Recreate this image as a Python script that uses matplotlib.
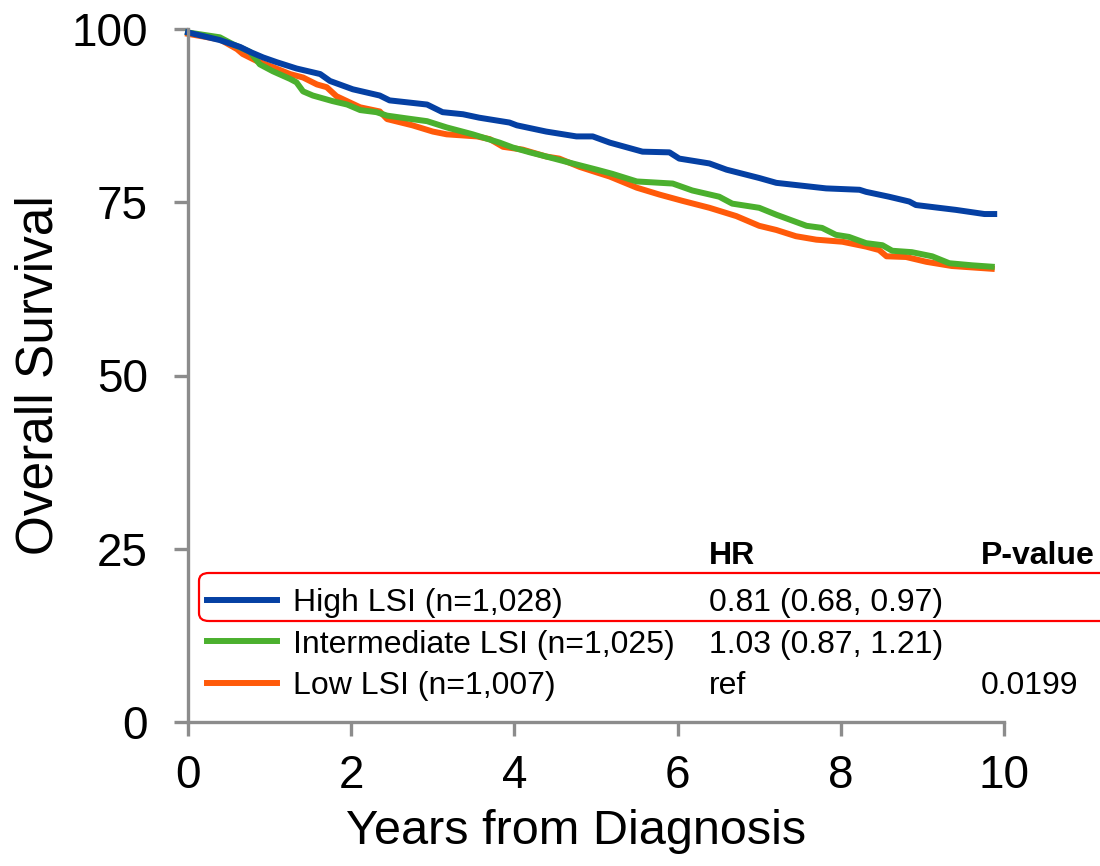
import matplotlib
matplotlib.use('Agg')
import matplotlib.pyplot as plt
from matplotlib.patches import FancyBboxPatch

plt.rcParams['font.family'] = ['Liberation Sans', 'DejaVu Sans']

# Kaplan-Meier curves (years, % surviving)
high_t = [0, 0.39, 0.64, 0.76, 0.92, 1.09, 1.33, 1.62, 1.74, 2.02, 2.35, 2.47, 2.93, 3.12,
          3.37, 3.57, 3.94, 4.03, 4.39, 4.76, 4.96, 5.17, 5.57, 5.90, 6.02, 6.39, 6.60,
          7.00, 7.21, 7.82, 8.23, 8.31, 8.59, 8.84, 8.92, 9.41, 9.76, 9.88]
high_s = [99.5, 98.4, 97.4, 96.7, 95.9, 95.2, 94.3, 93.5, 92.5, 91.3, 90.4, 89.7, 89.1, 88.0,
          87.7, 87.2, 86.5, 86.1, 85.2, 84.5, 84.5, 83.6, 82.3, 82.2, 81.3, 80.6, 79.7,
          78.5, 77.8, 77.0, 76.8, 76.5, 75.8, 75.1, 74.6, 73.9, 73.3, 73.3]

mid_t = [0, 0.39, 0.55, 0.76, 0.88, 1.04, 1.25, 1.33, 1.41, 1.53, 1.77, 1.95, 2.11, 2.31,
         2.44, 2.68, 2.93, 3.17, 3.49, 3.82, 3.98, 4.19, 4.39, 4.68, 5.01, 5.20, 5.50,
         5.94, 6.18, 6.51, 6.67, 7.00, 7.21, 7.58, 7.77, 7.94, 8.10, 8.31, 8.51, 8.63,
         8.87, 9.12, 9.33, 9.61, 9.85]
mid_s = [99.5, 98.8, 97.8, 96.7, 94.9, 93.9, 92.8, 92.3, 91.0, 90.4, 89.6, 89.1, 88.3, 88.0,
         87.5, 87.1, 86.7, 85.8, 84.8, 83.6, 82.9, 82.2, 81.6, 80.7, 79.7, 79.1, 78.0,
         77.7, 76.7, 75.8, 74.8, 74.2, 73.2, 71.6, 71.3, 70.3, 70.0, 69.1, 68.8, 68.0,
         67.8, 67.2, 66.2, 65.9, 65.7]

low_t = [0, 0.39, 0.60, 0.67, 0.84, 1.04, 1.25, 1.41, 1.58, 1.70, 1.82, 2.11, 2.35, 2.44,
         2.75, 3.00, 3.17, 3.54, 3.70, 3.86, 4.10, 4.39, 4.55, 4.80, 5.01, 5.17, 5.50,
         5.78, 6.06, 6.39, 6.72, 7.00, 7.21, 7.45, 7.70, 8.02, 8.31, 8.47, 8.56, 8.80,
         9.05, 9.36, 9.85]
low_s = [99.3, 98.5, 97.1, 96.4, 95.4, 94.5, 93.5, 93.0, 92.0, 91.6, 90.3, 88.7, 88.1, 87.0,
         86.1, 85.2, 84.8, 84.5, 84.1, 83.0, 82.6, 81.6, 81.3, 80.1, 79.3, 78.7, 77.1,
         76.1, 75.2, 74.2, 73.0, 71.6, 71.0, 70.1, 69.6, 69.3, 68.6, 68.1, 67.2, 67.1,
         66.4, 65.8, 65.4]

labels = ['High LSI (n=1,028)', 'Intermediate LSI (n=1,025)', 'Low LSI (n=1,007)']
hr_text = ['0.81 (0.68, 0.97)', '1.03 (0.87, 1.21)', 'ref']
p_text = ['', '', '0.0199']
colors = ['#0540A3', '#4BB02E', '#FF5A0A']

fig = plt.figure(figsize=(11, 8.66), dpi=100)
ax = fig.add_axes([188 / 1100, 1 - 722 / 866, 816 / 1100, 693 / 866])

l_low, = ax.plot(low_t, low_s, color=colors[2], lw=4.3, clip_on=False)
l_mid, = ax.plot(mid_t, mid_s, color=colors[1], lw=4.3, clip_on=False)
l_high, = ax.plot(high_t, high_s, color=colors[0], lw=4.3, clip_on=False)

ax.set_xlim(0, 10)
ax.set_ylim(0, 100)
ax.set_xticks([0, 2, 4, 6, 8, 10])
ax.set_yticks([0, 25, 50, 75, 100])
for s in ['top', 'right']:
    ax.spines[s].set_visible(False)
for s in ['left', 'bottom']:
    ax.spines[s].set_color('#8C8C8C')
    ax.spines[s].set_linewidth(2.4)
ax.tick_params(axis='both', labelsize=33, length=10, width=2.4, color='#8C8C8C', direction='out')
ax.tick_params(axis='y', pad=19)
ax.tick_params(axis='x', pad=13)

ax.set_xlabel('Years from Diagnosis', fontsize=35)
ax.xaxis.set_label_coords(0.475, -0.125)
ax.set_ylabel('Overall Survival', fontsize=37)
ax.yaxis.label.set_va('center')
ax.yaxis.set_label_coords(-0.183, 0.5)

leg = ax.legend([l_high, l_mid, l_low], labels, loc='upper left',
                bbox_to_anchor=(207 / 1100, 1 - 588 / 866), bbox_transform=fig.transFigure,
                frameon=False, fontsize=23, handlelength=2.2, handletextpad=0.5,
                labelspacing=0.36, borderpad=0, borderaxespad=0)
for h in leg.get_lines():
    h.set_linewidth(4.3)

fig.canvas.draw()
inv = fig.transFigure.inverted()
for txt, hr, p in zip(leg.get_texts(), hr_text, p_text):
    bb = txt.get_window_extent()
    yc = inv.transform((0, (bb.y0 + bb.y1) / 2))[1]
    fig.text(709 / 1100, yc, hr, fontsize=23, va='center', ha='left')
    if p:
        fig.text(981 / 1100, yc, p, fontsize=23, va='center', ha='left')

fig.text(709 / 1100, 1 - 556 / 866, 'HR', fontsize=23, fontweight='bold', va='center')
fig.text(981 / 1100, 1 - 556 / 866, 'P-value', fontsize=23, fontweight='bold', va='center')

box = FancyBboxPatch((199 / 1100, 1 - 621 / 866), 920 / 1100, 48 / 866,
                     boxstyle='round,pad=0,rounding_size=0.009', transform=fig.transFigure,
                     fill=False, edgecolor='#FF0000', linewidth=1.6, clip_on=False)
fig.add_artist(box)

fig.savefig('out.png', dpi=100)
